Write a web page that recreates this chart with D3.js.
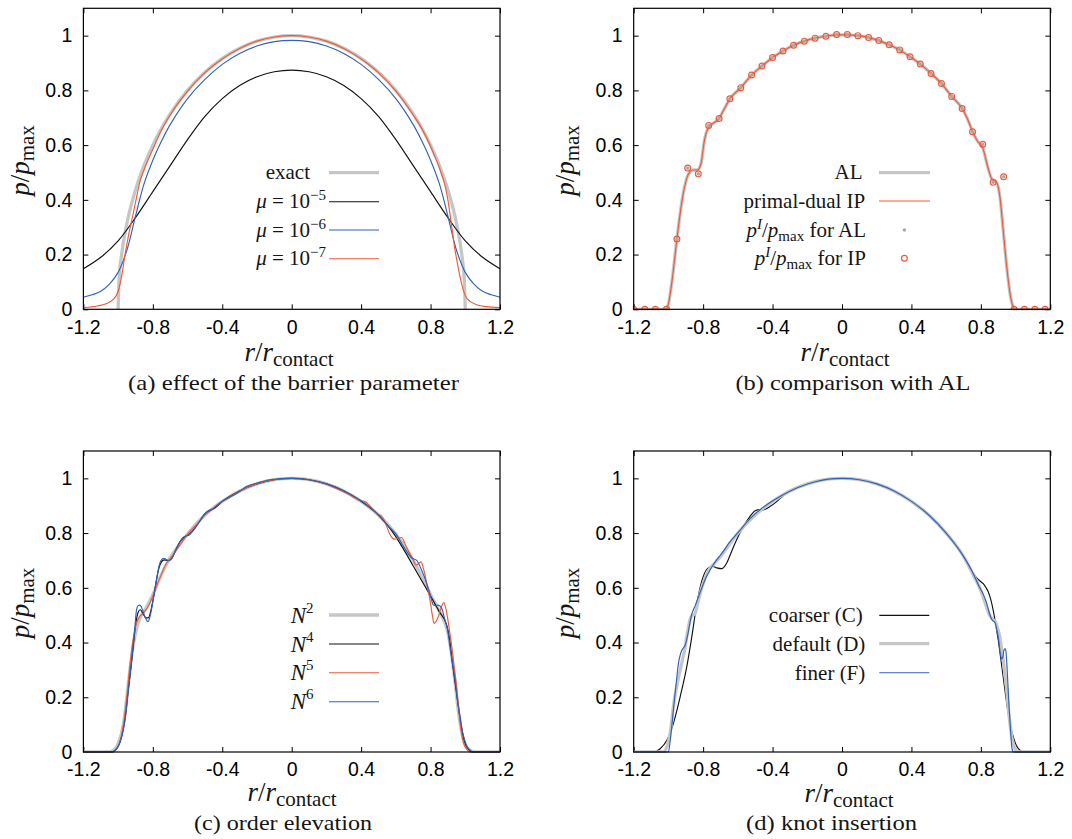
<!DOCTYPE html>
<html>
<head>
<meta charset="utf-8">
<script src="https://cdn.jsdelivr.net/npm/d3@7"></script>
<style>
  body { margin: 0; background: #fff; }
  svg { display: block; }
  .tick text { font-family: "Liberation Sans", Arial, sans-serif; font-size: 19.5px; fill: #000; }
  .serif { font-family: "Liberation Serif", "Times New Roman", serif; fill: #151515; }
</style>
</head>
<body>
<svg id="fig" width="1072" height="839"></svg>
<script>
// ---------- shared axis values ----------
const xTicks = [-1.2, -0.8, -0.4, 0, 0.4, 0.8, 1.2];
const yTicks = [0, 0.2, 0.4, 0.6, 0.8, 1];

// ---------- (a) effect of the barrier parameter ----------
const exact = [[-1.0,0],[-0.995,0.1],[-0.98,0.199],[-0.95,0.312],[-0.9,0.436],[-0.85,0.527],[-0.8,0.6],[-0.7,0.714],
  [-0.6,0.8],[-0.5,0.866],[-0.4,0.917],[-0.3,0.954],[-0.2,0.98],[-0.1,0.995],[0,1],[0.1,0.995],[0.2,0.98],
  [0.3,0.954],[0.4,0.917],[0.5,0.866],[0.6,0.8],[0.7,0.714],[0.8,0.6],[0.85,0.527],[0.9,0.436],[0.95,0.312],
  [0.98,0.199],[0.995,0.1],[1.0,0]];
const mu5 = [[-1.2,0.148],[-1.1,0.19],[-1.0,0.25],[-0.9,0.335],[-0.8,0.43],[-0.7,0.525],[-0.6,0.62],[-0.5,0.705],
  [-0.4,0.77],[-0.3,0.818],[-0.2,0.85],[-0.1,0.868],[0,0.874],[0.1,0.868],[0.2,0.85],[0.3,0.818],[0.4,0.77],
  [0.5,0.705],[0.6,0.62],[0.7,0.525],[0.8,0.43],[0.9,0.335],[1.0,0.25],[1.1,0.19],[1.2,0.148]];
const mu6 = [[-1.2,0.044],[-1.15,0.053],[-1.1,0.066],[-1.05,0.092],[-1.0,0.135],[-0.95,0.215],[-0.9,0.34],
  [-0.85,0.46],[-0.8,0.545],[-0.75,0.615],[-0.7,0.675],[-0.6,0.77],[-0.5,0.84],[-0.4,0.895],[-0.3,0.935],
  [-0.2,0.962],[-0.1,0.978],[0,0.983],[0.1,0.978],[0.2,0.962],[0.3,0.935],[0.4,0.895],[0.5,0.84],[0.6,0.77],
  [0.7,0.675],[0.75,0.615],[0.8,0.545],[0.85,0.46],[0.9,0.34],[0.95,0.215],[1.0,0.135],[1.05,0.092],
  [1.1,0.066],[1.15,0.053],[1.2,0.044]];
const mu7 = [[-1.2,0.006],[-1.12,0.012],[-1.07,0.02],[-1.03,0.035],[-1.0,0.065],[-0.98,0.12],[-0.96,0.2],
  [-0.94,0.27],[-0.92,0.33],[-0.9,0.39],[-0.875,0.465],[-0.85,0.51],[-0.8,0.585],[-0.75,0.655],[-0.7,0.71],
  [-0.6,0.797],[-0.5,0.865],[-0.4,0.915],[-0.3,0.953],[-0.2,0.98],[-0.1,0.995],[0,1.0],[0.1,0.995],[0.2,0.98],
  [0.3,0.953],[0.4,0.915],[0.5,0.865],[0.6,0.797],[0.7,0.71],[0.75,0.66],[0.8,0.595],[0.82,0.565],[0.84,0.535],
  [0.86,0.5],[0.88,0.46],[0.9,0.4],[0.92,0.31],[0.94,0.22],[0.96,0.15],[0.98,0.09],[1.0,0.05],[1.03,0.028],
  [1.07,0.016],[1.12,0.01],[1.2,0.006]];

// ---------- (b) comparison with AL ----------
const alCurve = [[-1.2,0],[-1.011,0],[-1.0,0.02],[-0.981,0.095],[-0.951,0.257],[-0.921,0.4],[-0.891,0.485],
  [-0.875,0.503],[-0.861,0.509],[-0.846,0.509],[-0.832,0.509],[-0.812,0.533],[-0.792,0.619],[-0.772,0.661],
  [-0.742,0.68],[-0.708,0.697],[-0.68,0.73],[-0.646,0.769],[-0.583,0.81],[-0.521,0.856],[-0.461,0.889],
  [-0.4,0.92],[-0.34,0.944],[-0.279,0.965],[-0.217,0.98],[-0.155,0.991],[-0.093,0.998],[-0.031,1.003],
  [0.031,1.003],[0.091,1.0],[0.153,0.993],[0.212,0.982],[0.272,0.967],[0.332,0.948],[0.392,0.923],
  [0.451,0.896],[0.513,0.862],[0.573,0.825],[0.632,0.778],[0.692,0.734],[0.72,0.7],[0.752,0.65],[0.78,0.615],
  [0.811,0.59],[0.84,0.52],[0.86,0.48],[0.875,0.47],[0.89,0.465],[0.91,0.41],[0.93,0.28],[0.95,0.15],
  [0.97,0.05],[0.985,0.01],[0.995,0],[1.2,0]];
const ipCurve = [[-1.2,0],[-1.011,0],[-1.0,0.02],[-0.981,0.095],[-0.951,0.257],[-0.921,0.4],[-0.891,0.485],
  [-0.875,0.503],[-0.861,0.509],[-0.846,0.509],[-0.832,0.509],[-0.812,0.533],[-0.792,0.619],[-0.772,0.661],
  [-0.742,0.68],[-0.708,0.697],[-0.68,0.73],[-0.646,0.769],[-0.583,0.81],[-0.521,0.856],[-0.461,0.889],
  [-0.4,0.92],[-0.34,0.944],[-0.279,0.965],[-0.217,0.98],[-0.155,0.991],[-0.093,0.998],[-0.031,1.003],
  [0.031,1.003],[0.091,1.0],[0.153,0.993],[0.212,0.982],[0.272,0.967],[0.332,0.948],[0.392,0.923],
  [0.451,0.896],[0.513,0.862],[0.573,0.825],[0.632,0.778],[0.692,0.734],[0.72,0.7],[0.752,0.65],[0.78,0.615],
  [0.811,0.59],[0.84,0.52],[0.86,0.48],[0.875,0.47],[0.89,0.465],[0.91,0.41],[0.93,0.28],[0.95,0.15],
  [0.97,0.05],[0.985,0.01],[0.995,0],[1.2,0]];
const alPoints = [[-1.2,0],[-1.136,0],[-1.075,0],[-1.011,0],[-0.951,0.257],[-0.889,0.516],[-0.828,0.495],
  [-0.768,0.672],[-0.708,0.697],[-0.646,0.769],[-0.583,0.81],[-0.521,0.856],[-0.461,0.889],[-0.4,0.92],
  [-0.34,0.944],[-0.279,0.965],[-0.217,0.98],[-0.155,0.991],[-0.093,0.998],[-0.031,1.004],[0.031,1.004],
  [0.091,1.0],[0.153,0.993],[0.212,0.982],[0.272,0.967],[0.332,0.948],[0.392,0.923],[0.451,0.896],
  [0.513,0.862],[0.573,0.825],[0.632,0.778],[0.692,0.734],[0.752,0.649],[0.811,0.603],[0.871,0.464],
  [0.931,0.484],[0.991,0],[1.051,0],[1.111,0],[1.17,0]];
const ipPoints = [[-1.2,0],[-1.136,0],[-1.075,0],[-1.011,0],[-0.951,0.257],[-0.889,0.516],[-0.828,0.495],
  [-0.768,0.672],[-0.708,0.697],[-0.646,0.769],[-0.583,0.81],[-0.521,0.856],[-0.461,0.889],[-0.4,0.92],
  [-0.34,0.944],[-0.279,0.965],[-0.217,0.98],[-0.155,0.991],[-0.093,0.998],[-0.031,1.004],[0.031,1.004],
  [0.091,1.0],[0.153,0.993],[0.212,0.982],[0.272,0.967],[0.332,0.948],[0.392,0.923],[0.451,0.896],
  [0.513,0.862],[0.573,0.825],[0.632,0.778],[0.692,0.734],[0.752,0.649],[0.811,0.603],[0.871,0.464],
  [0.931,0.484],[0.991,0],[1.051,0],[1.111,0],[1.17,0]];

// ---------- (c) order elevation ----------
const n2 = [[-1.2,0],[-1.05,0],[-1.03,0.005],[-1.0,0.03],[-0.97,0.1],[-0.95,0.2],[-0.93,0.31],[-0.91,0.4],
  [-0.89,0.46],[-0.87,0.495],[-0.84,0.525],[-0.8,0.575],[-0.75,0.65],[-0.7,0.71],[-0.65,0.755],[-0.6,0.797],
  [-0.5,0.866],[-0.4,0.916],[-0.3,0.954],[-0.2,0.98],[-0.1,0.995],[0,1.0],[0.1,0.995],[0.2,0.98],[0.3,0.954],
  [0.4,0.916],[0.5,0.866],[0.6,0.797],[0.65,0.752],[0.7,0.7],[0.75,0.64],[0.8,0.575],[0.85,0.515],[0.88,0.475],
  [0.9,0.435],[0.92,0.36],[0.94,0.26],[0.96,0.15],[0.98,0.07],[1.0,0.025],[1.03,0.005],[1.05,0],[1.2,0]];
const n4 = [[-1.2,0],[-1.04,0],[-1.0,0.02],[-0.972,0.08],[-0.955,0.15],[-0.943,0.22],[-0.928,0.3],[-0.914,0.38],
  [-0.9,0.46],[-0.885,0.51],[-0.872,0.52],[-0.856,0.505],[-0.84,0.49],[-0.826,0.49],[-0.81,0.52],[-0.795,0.57],
  [-0.78,0.625],[-0.765,0.672],[-0.75,0.695],[-0.735,0.702],[-0.715,0.7],[-0.695,0.705],[-0.67,0.735],
  [-0.64,0.772],[-0.62,0.785],[-0.59,0.795],[-0.55,0.825],[-0.5,0.87],[-0.47,0.884],[-0.45,0.889],[-0.4,0.916],
  [-0.3,0.954],[-0.2,0.98],[-0.1,0.995],[0,1.0],[0.1,0.995],[0.2,0.98],[0.3,0.954],[0.4,0.916],[0.5,0.866],
  [0.55,0.83],[0.586,0.8],[0.65,0.735],[0.7,0.68],[0.75,0.625],[0.8,0.57],[0.85,0.513],[0.893,0.464],
  [0.91,0.41],[0.925,0.33],[0.94,0.26],[0.955,0.19],[0.97,0.12],[0.985,0.065],[1.0,0.03],[1.02,0.01],
  [1.04,0],[1.2,0]];
const n5 = [[-1.2,0],[-1.03,0],[-1.0,0.02],[-0.972,0.09],[-0.95,0.2],[-0.933,0.31],[-0.914,0.41],[-0.895,0.47],
  [-0.876,0.495],[-0.856,0.507],[-0.837,0.522],[-0.818,0.543],[-0.8,0.57],[-0.78,0.604],[-0.75,0.65],
  [-0.722,0.689],[-0.69,0.715],[-0.664,0.738],[-0.63,0.77],[-0.588,0.805],[-0.55,0.83],[-0.5,0.866],
  [-0.45,0.892],[-0.4,0.915],[-0.3,0.953],[-0.2,0.98],[-0.1,0.995],[0,1.0],[0.1,0.995],[0.182,0.982],
  [0.25,0.965],[0.336,0.939],[0.374,0.925],[0.4,0.918],[0.422,0.915],[0.45,0.9],[0.49,0.872],[0.518,0.862],
  [0.535,0.845],[0.55,0.82],[0.566,0.795],[0.58,0.782],[0.595,0.778],[0.615,0.782],[0.634,0.784],
  [0.648,0.768],[0.662,0.748],[0.68,0.725],[0.7,0.702],[0.716,0.683],[0.73,0.688],[0.745,0.695],[0.757,0.675],
  [0.768,0.647],[0.782,0.6],[0.797,0.555],[0.81,0.5],[0.82,0.47],[0.832,0.478],[0.845,0.495],[0.862,0.53],
  [0.877,0.546],[0.887,0.528],[0.897,0.495],[0.91,0.44],[0.922,0.385],[0.936,0.31],[0.95,0.239],[0.962,0.16],
  [0.973,0.093],[0.985,0.045],[0.998,0.02],[1.012,0.007],[1.027,0],[1.2,0]];
const n6 = [[-1.2,0],[-1.04,0],[-1.01,0.01],[-0.99,0.035],[-0.972,0.075],[-0.955,0.14],[-0.943,0.214],
  [-0.928,0.3],[-0.914,0.385],[-0.903,0.46],[-0.895,0.515],[-0.885,0.535],[-0.876,0.537],[-0.866,0.53],
  [-0.856,0.513],[-0.84,0.487],[-0.828,0.476],[-0.818,0.49],[-0.808,0.519],[-0.797,0.56],[-0.785,0.605],
  [-0.772,0.655],[-0.76,0.689],[-0.748,0.704],[-0.737,0.708],[-0.722,0.703],[-0.707,0.699],[-0.695,0.704],
  [-0.684,0.714],[-0.67,0.735],[-0.655,0.756],[-0.64,0.772],[-0.626,0.784],[-0.607,0.79],[-0.588,0.795],
  [-0.57,0.807],[-0.549,0.825],[-0.52,0.852],[-0.492,0.876],[-0.472,0.882],[-0.453,0.888],[-0.425,0.905],
  [-0.396,0.918],[-0.338,0.937],[-0.3,0.952],[-0.261,0.97],[-0.204,0.982],[-0.127,0.995],[0,1.0],[0.1,0.995],
  [0.2,0.98],[0.3,0.955],[0.4,0.918],[0.5,0.866],[0.55,0.83],[0.6,0.797],[0.65,0.745],[0.69,0.71],[0.72,0.7],
  [0.745,0.67],[0.778,0.616],[0.8,0.57],[0.816,0.537],[0.83,0.535],[0.845,0.537],[0.864,0.525],[0.883,0.482],
  [0.9,0.44],[0.912,0.385],[0.927,0.32],[0.941,0.263],[0.955,0.19],[0.97,0.129],[0.985,0.07],[0.998,0.04],
  [1.012,0.018],[1.027,0.007],[1.045,0],[1.2,0]];

// ---------- (d) knot insertion ----------
const coarser = [[-1.2,0],[-1.087,0],[-1.048,0.012],[-1.01,0.042],[-0.972,0.103],[-0.933,0.2],[-0.895,0.309],
  [-0.866,0.418],[-0.837,0.539],[-0.808,0.624],[-0.78,0.667],[-0.751,0.679],[-0.722,0.673],[-0.693,0.67],
  [-0.664,0.691],[-0.636,0.733],[-0.607,0.776],[-0.568,0.824],[-0.53,0.861],[-0.5,0.882],[-0.475,0.886],
  [-0.453,0.885],[-0.415,0.897],[-0.376,0.915],[-0.338,0.937],[-0.3,0.954],[-0.2,0.98],[-0.1,0.995],[0,1.0],
  [0.1,0.995],[0.2,0.98],[0.3,0.954],[0.4,0.916],[0.5,0.866],[0.6,0.797],[0.7,0.715],[0.75,0.66],[0.776,0.636],
  [0.795,0.625],[0.814,0.615],[0.83,0.6],[0.843,0.585],[0.858,0.555],[0.872,0.515],[0.887,0.46],[0.901,0.406],
  [0.915,0.34],[0.929,0.273],[0.943,0.205],[0.958,0.139],[0.972,0.09],[0.987,0.055],[1.0,0.03],[1.016,0.012],
  [1.03,0.004],[1.045,0],[1.2,0]];
const defaultMesh = [[-1.2,0],[-1.03,0],[-1.0,0.04],[-0.985,0.09],[-0.972,0.164],[-0.952,0.24],[-0.933,0.297],
  [-0.918,0.34],[-0.904,0.382],[-0.895,0.42],[-0.885,0.455],[-0.875,0.485],[-0.866,0.497],[-0.856,0.502],
  [-0.847,0.505],[-0.838,0.525],[-0.828,0.552],[-0.815,0.585],[-0.799,0.618],[-0.78,0.648],[-0.76,0.673],
  [-0.74,0.686],[-0.72,0.7],[-0.7,0.715],[-0.6,0.8],[-0.5,0.866],[-0.4,0.916],[-0.3,0.954],[-0.2,0.98],
  [-0.1,0.995],[0,1.0],[0.1,0.995],[0.2,0.98],[0.3,0.954],[0.4,0.916],[0.5,0.866],[0.6,0.8],[0.7,0.715],
  [0.75,0.655],[0.8,0.59],[0.814,0.565],[0.835,0.525],[0.853,0.497],[0.868,0.485],[0.881,0.479],[0.895,0.455],
  [0.91,0.418],[0.92,0.375],[0.929,0.335],[0.939,0.28],[0.949,0.224],[0.958,0.16],[0.968,0.103],[0.978,0.055],
  [0.987,0.03],[1.0,0.008],[1.01,0],[1.2,0]];
const finer = [[-1.2,0],[-1.0,0],[-0.99,0.04],[-0.981,0.091],[-0.972,0.15],[-0.962,0.212],[-0.952,0.27],
  [-0.943,0.321],[-0.933,0.352],[-0.924,0.37],[-0.914,0.38],[-0.904,0.39],[-0.895,0.41],[-0.885,0.44],
  [-0.875,0.475],[-0.866,0.503],[-0.856,0.52],[-0.847,0.533],[-0.83,0.562],[-0.818,0.582],[-0.8,0.612],
  [-0.78,0.642],[-0.76,0.665],[-0.741,0.685],[-0.7,0.72],[-0.684,0.733],[-0.65,0.765],[-0.607,0.796],
  [-0.53,0.853],[-0.453,0.895],[-0.357,0.934],[-0.261,0.965],[-0.165,0.986],[-0.08,0.997],[0,1.0],[0.1,0.995],
  [0.2,0.98],[0.3,0.954],[0.4,0.916],[0.5,0.866],[0.6,0.8],[0.7,0.715],[0.75,0.66],[0.79,0.605],[0.814,0.576],
  [0.83,0.55],[0.843,0.521],[0.853,0.5],[0.862,0.485],[0.872,0.478],[0.881,0.473],[0.891,0.45],[0.901,0.418],
  [0.908,0.38],[0.914,0.352],[0.92,0.34],[0.926,0.345],[0.932,0.37],[0.939,0.378],[0.944,0.37],[0.949,0.33],
  [0.954,0.27],[0.958,0.22],[0.963,0.16],[0.968,0.11],[0.973,0.06],[0.977,0.025],[0.982,0.005],[0.987,0],[1.2,0]];

// ---------- styles ----------
const RED = "#ef5a3a", BLUE = "#2f62b8", GRAY = "#c6c6c6", BLACK = "#111";
const THIN = 1.15, THICK = 3.3;

// ---------- drawing ----------
const svg = d3.select("#fig");
const W = 416.6, H = 301;
const x = d3.scaleLinear().domain([-1.2, 1.2]).range([0, W]);
const y = d3.scaleLinear().domain([0, 1.1]).range([H, 0]);
const lineSharp = d3.line().x(d => x(d[0])).y(d => y(d[1])).curve(d3.curveMonotoneX);
const lineSmooth = d3.line().x(d => x(d[0])).y(d => y(d[1])).curve(d3.curveCatmullRom.alpha(0.5));
const fmtX = d => d === 0 ? "0" : d.toFixed(1);
const fmtY = d => d === 0 ? "0" : d === 1 ? "1" : d.toFixed(1);

function drawPanel(id, left, top, series, markers) {
  const g = svg.append("g").attr("transform", `translate(${left},${top})`);
  g.append("clipPath").attr("id", "clip" + id)
    .append("rect").attr("x", -1).attr("y", 0).attr("width", W + 2).attr("height", H + 1);

  const strip = s => s.select(".domain").remove();
  g.append("g").attr("transform", `translate(0,${H})`)
    .call(d3.axisBottom(x).tickValues(xTicks).tickFormat(fmtX).tickSize(-5).tickPadding(10.5)).call(strip);
  g.append("g")
    .call(d3.axisTop(x).tickValues(xTicks).tickFormat("").tickSize(-5)).call(strip);
  g.append("g")
    .call(d3.axisLeft(y).tickValues(yTicks).tickFormat(fmtY).tickSize(-5).tickPadding(11)).call(strip);
  g.append("g").attr("transform", `translate(${W},0)`)
    .call(d3.axisRight(y).tickValues(yTicks).tickFormat("").tickSize(-5)).call(strip);
  g.selectAll(".tick line").attr("stroke", "#000").attr("stroke-width", 1);

  const plot = g.append("g").attr("clip-path", `url(#clip${id})`);
  series.forEach(s => {
    plot.append("path").datum(s.data)
      .attr("fill", "none").attr("stroke", s.color).attr("stroke-width", s.width)
      .attr("stroke-linejoin", "round").attr("d", s.smooth ? lineSmooth : lineSharp);
  });
  if (markers) {
    markers.forEach(m => {
      const sel = plot.selectAll(null).data(m.data).enter().append("circle")
        .attr("cx", d => x(d[0])).attr("cy", d => y(d[1])).attr("r", m.r);
      if (m.fill) sel.attr("fill", m.fill).attr("stroke", "none");
      else sel.attr("fill", "none").attr("stroke", m.stroke).attr("stroke-width", 1.2);
    });
  }
  g.append("rect").attr("width", W).attr("height", H)
    .attr("fill", "none").attr("stroke", "#000").attr("stroke-width", 1.2);
  return g;
}

// text helpers
function richText(parent, xPos, yPos, anchor, parts, size) {
  const t = parent.append("text").attr("class", "serif").attr("x", xPos).attr("y", yPos)
    .attr("text-anchor", anchor).attr("font-size", size);
  parts.forEach(p => {
    const ts = t.append("tspan").text(p.t);
    if (p.i) ts.attr("font-style", "italic");
    if (p.s) ts.attr("font-size", p.s);
    if (p.dy) ts.attr("dy", p.dy);
  });
  return t;
}
function xTitle(cx, base) {
  richText(svg, cx, base, "middle", [
    {t: "r", i: 1}, {t: "/"}, {t: "r", i: 1}, {t: "contact", s: 21, dy: 5}
  ], 27);
}
function yTitle(cx, cy) {
  const g = svg.append("g").attr("transform", `translate(${cx},${cy}) rotate(-90)`);
  richText(g, 0, 0, "middle", [
    {t: "p", i: 1}, {t: "/"}, {t: "p", i: 1}, {t: "max", s: 21, dy: 5}
  ], 27);
}
function caption(cx, base, str, len) {
  svg.append("text").attr("class", "serif").attr("x", cx).attr("y", base)
    .attr("text-anchor", "middle").attr("font-size", 21)
    .attr("textLength", len).attr("lengthAdjust", "spacingAndGlyphs").text(str);
}
function legendLine(x1, x2, yy, color, width) {
  svg.append("line").attr("x1", x1).attr("x2", x2).attr("y1", yy).attr("y2", yy)
    .attr("stroke", color).attr("stroke-width", width);
}

// (a)
drawPanel("a", 83.4, 8.3, [
  {data: exact, color: GRAY, width: THICK},
  {data: mu5, color: BLACK, width: THIN, smooth: true},
  {data: mu6, color: BLUE, width: THIN, smooth: true},
  {data: mu7, color: RED, width: THIN}
]);
// (b)
drawPanel("b", 633.7, 8.3, [
  {data: alCurve, color: GRAY, width: THICK},
  {data: ipCurve, color: RED, width: THIN}
], [
  {data: alPoints, r: 1.8, fill: "#a9a9a9"},
  {data: ipPoints, r: 2.9, stroke: RED}
]);
// (c)
drawPanel("c", 83.4, 451, [
  {data: n2, color: GRAY, width: THICK},
  {data: n4, color: BLACK, width: THIN},
  {data: n5, color: RED, width: THIN},
  {data: n6, color: BLUE, width: THIN}
]);
// (d)
drawPanel("d", 633.7, 451, [
  {data: coarser, color: BLACK, width: THIN},
  {data: defaultMesh, color: GRAY, width: THICK},
  {data: finer, color: BLUE, width: THIN}
]);

// axis titles
xTitle(289, 360.5); xTitle(845, 360.5); xTitle(292, 800.5); xTitle(849, 801.5);
yTitle(29, 160.5); yTitle(574, 160.5); yTitle(29, 603); yTitle(574, 603);

// captions
caption(293.5, 390, "(a) effect of the barrier parameter", 331);
caption(853, 390, "(b) comparison with AL", 235);
caption(283, 830, "(c) order elevation", 178);
caption(831.6, 830, "(d) knot insertion", 171);

// legend (a)
const LS = 21, SUP = 15;
richText(svg, 310, 179, "end", [{t: "exact"}], LS);
legendLine(329, 379, 172.7, GRAY, THICK);
[["−5", 201.7, BLACK], ["−6", 230, BLUE], ["−7", 258.7, RED]].forEach(([e, yy, c]) => {
  richText(svg, 326, yy + 6.5, "end", [{t: "μ", i: 1}, {t: " = 10"}, {t: e, s: SUP, dy: -8}], LS);
  legendLine(329, 379, yy, c, THIN);
});

// legend (b)
richText(svg, 862.5, 179, "end", [{t: "AL"}], LS);
legendLine(879, 930, 172.7, GRAY, THICK);
richText(svg, 865.3, 207.5, "end", [{t: "primal-dual IP"}], LS);
legendLine(879, 930, 201, RED, THIN);
[["AL", 230], ["IP", 258.3]].forEach(([lab, yy]) => {
  richText(svg, 866, yy + 6.5, "end", [
    {t: "p", i: 1}, {t: "I", i: 1, s: SUP, dy: -8}, {t: "/", dy: 8}, {t: "p", i: 1},
    {t: "max", s: SUP, dy: 4}, {t: " for " + lab, dy: -4}
  ], LS);
});
svg.append("circle").attr("cx", 904.4).attr("cy", 230).attr("r", 1.8).attr("fill", "#a9a9a9");
svg.append("circle").attr("cx", 904.4).attr("cy", 258.3).attr("r", 2.9)
  .attr("fill", "none").attr("stroke", RED).attr("stroke-width", 1.2);

// legend (c)
[["2", 615, GRAY, THICK], ["4", 644, BLACK, THIN], ["5", 672.7, RED, THIN], ["6", 701.7, BLUE, THIN]]
  .forEach(([k, yy, c, w]) => {
    richText(svg, 313.5, yy + 7.5, "end", [{t: "N", i: 1}, {t: k, s: SUP, dy: -10}], 23);
    legendLine(329, 379, yy, c, w);
  });

// legend (d)
richText(svg, 862.7, 622, "end", [{t: "coarser (C)"}], LS);
legendLine(879.3, 929.3, 615.3, BLACK, THIN);
richText(svg, 865.3, 650.5, "end", [{t: "default (D)"}], LS);
legendLine(879.3, 929.3, 643.7, GRAY, THICK);
richText(svg, 865.3, 679.5, "end", [{t: "finer (F)"}], LS);
legendLine(879.3, 929.3, 672.7, BLUE, THIN);
</script>
</body>
</html>
